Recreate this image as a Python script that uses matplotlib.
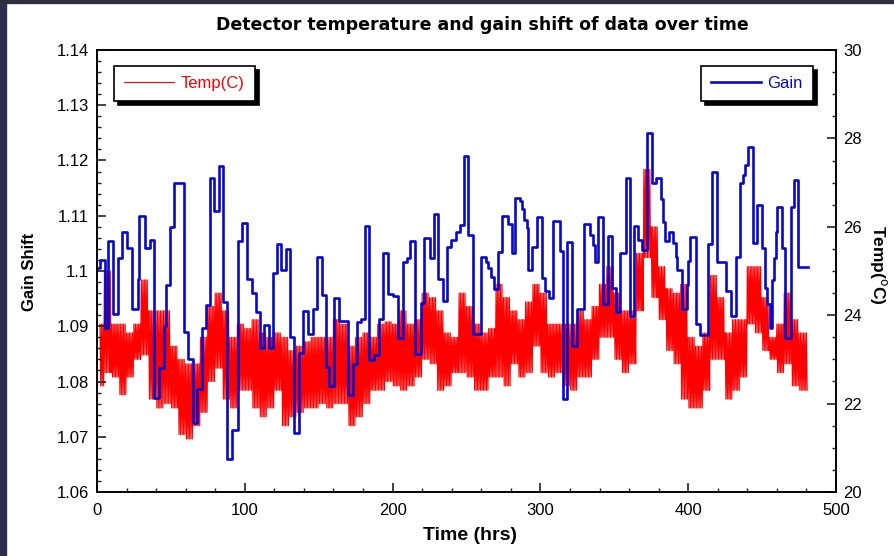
import numpy as np
import matplotlib
matplotlib.use("Agg")
import matplotlib.pyplot as plt
from matplotlib.ticker import MultipleLocator, AutoMinorLocator
from matplotlib.patches import Rectangle

plt.rcParams["font.family"] = ["Liberation Sans", "DejaVu Sans"]

# gain shift per run: step start time (hrs) and gain value
gain_t = [0, 2.0, 5.4, 7.7, 11.0, 14.0, 16.7, 20.1, 23.4, 27.5,
          28.4, 32.5, 35.9, 38.8, 42.2, 45.5, 46.5, 49.4, 52.1, 59.1,
          61.8, 65.2, 67.5, 70.8, 73.7, 76.5, 79.4, 82.5, 85.5, 88.2,
          91.1, 95.2, 97.9, 101.3, 104.6, 107.6, 110.3, 113.2, 116.6, 118.9,
          121.6, 124.5, 127.9, 130.6, 133.5, 136.7, 139.1, 143.0, 145.9, 149.1,
          152.0, 154.9, 157.2, 160.6, 163.7, 170.0, 173.0, 175.7, 178.4, 181.3,
          184.3, 187.6, 190.8, 193.7, 197.1, 200.5, 203.4, 207.3, 209.5, 211.8,
          215.2, 219.2, 221.5, 225.3, 228.2, 231.0, 234.3, 237.0, 239.5, 242.7,
          245.6, 248.5, 251.2, 254.6, 259.8, 263.0, 264.8, 266.6, 268.8, 271.5,
          274.2, 277.8, 280.6, 282.8, 286.2, 287.3, 289.1, 290.7, 291.4, 294.6,
          297.5, 300.9, 303.1, 306.0, 308.7, 313.3, 315.1, 317.8, 321.2, 324.5,
          329.5, 333.6, 335.4, 337.0, 339.2, 342.6, 345.5, 348.2, 351.1, 353.9,
          357.7, 360.6, 363.5, 366.3, 368.5, 371.9, 375.3, 378.2, 381.4, 382.7,
          384.3, 387.2, 390.0, 391.5, 392.6, 395.6, 399.0, 400.1, 401.2, 405.1,
          408.0, 413.6, 416.3, 419.7, 425.4, 428.7, 432.3, 435.0, 437.3, 438.4,
          440.2, 443.6, 446.3, 450.2, 452.0, 453.1, 455.3, 456.9, 458.1, 459.2,
          459.9, 463.2, 465.5, 469.6, 471.6, 474.5, 481.3]
gain_v = [1.1005, 1.1020, 1.0897, 1.1055, 1.0923, 1.1024, 1.1070, 1.1041, 1.0931, 1.0985,
          1.1100, 1.1041, 1.1057, 1.0771, 1.0824, 1.0900, 1.0975, 1.1080, 1.1160, 1.0890,
          1.0840, 1.0725, 1.0786, 1.0897, 1.0938, 1.1169, 1.1109, 1.1190, 1.0944, 1.0659,
          1.0713, 1.1055, 1.1086, 1.0985, 1.0961, 1.0925, 1.0861, 1.0902, 1.0861, 1.0996,
          1.1048, 1.1001, 1.1039, 1.0880, 1.0707, 1.0852, 1.0928, 1.0886, 1.0931, 1.1026,
          1.0957, 1.0826, 1.0791, 1.0951, 1.0910, 1.0775, 1.0831, 1.0907, 1.0913, 1.1081,
          1.0839, 1.0848, 1.0913, 1.1032, 1.0958, 1.0954, 1.0879, 1.1017, 1.1024, 1.1055,
          1.0850, 1.0942, 1.1060, 1.1024, 1.1104, 1.0985, 1.0946, 1.1044, 1.1056, 1.1071,
          1.1084, 1.1208, 1.1066, 1.0886, 1.1026, 1.1017, 1.1005, 1.0990, 1.0967, 1.1034,
          1.1099, 1.1085, 1.1033, 1.1133, 1.1127, 1.1113, 1.1092, 1.1077, 1.1002, 1.1044,
          1.1097, 1.0987, 1.0963, 1.0952, 1.1090, 1.1036, 1.0769, 1.1052, 1.0864, 1.0932,
          1.1085, 1.1065, 1.1047, 1.1016, 1.1097, 1.0941, 1.1063, 1.0969, 1.0926, 1.1032,
          1.1169, 1.0919, 1.1081, 1.1057, 1.1038, 1.1249, 1.1159, 1.1168, 1.1130, 1.1089,
          1.1054, 1.1070, 1.1050, 1.1026, 1.1002, 1.0931, 1.0975, 1.1018, 1.1062, 1.0904,
          1.0884, 1.1048, 1.1179, 1.1017, 1.0963, 1.0919, 1.1026, 1.1159, 1.1174, 1.1192,
          1.1225, 1.1050, 1.1119, 1.1041, 1.0969, 1.0941, 1.0896, 1.0984, 1.1023, 1.1070,
          1.1115, 1.1041, 1.0878, 1.1116, 1.1164, 1.1008, 1.1008]

# detector temperature band (deg C), high and low readings per 5 hr block
temp_block = 5
temp_hi = [23.8, 25.0, 23.8, 23.8, 23.6, 23.8, 24.8, 24.1, 24.1, 24.1,
           23.3, 23.0, 22.9, 22.9, 23.5, 24.2, 24.5, 24.1, 23.5, 23.8,
           23.7, 23.9, 23.6, 23.5, 23.6, 23.5, 23.2, 23.3, 23.4, 23.5,
           23.5, 23.5, 23.9, 23.8, 23.3, 23.5, 23.6, 23.5, 23.8, 23.85,
           23.8, 24.1, 23.8, 23.9, 24.5, 24.4, 24.1, 23.6, 23.5, 24.5,
           24.2, 23.8, 23.6, 23.7, 24.7, 24.4, 24.1, 23.9, 24.3, 24.7,
           24.5, 23.8, 23.8, 23.8, 23.8, 24.1, 23.9, 24.2, 24.7, 25.1,
           24.5, 24.1, 24.1, 25.4, 27.3, 26.0, 25.1, 24.6, 24.5, 24.7,
           23.5, 23.3, 23.6, 24.9, 24.4, 23.6, 23.9, 23.9, 25.1, 25.1,
           24.4, 23.5, 23.8, 24.5, 23.9, 23.6]
temp_lo = [22.4, 22.7, 22.6, 22.2, 22.6, 23.0, 23.1, 22.1, 21.9, 22.0,
           21.9, 21.3, 21.2, 21.5, 21.8, 22.5, 22.8, 22.1, 21.9, 22.3,
           22.3, 21.9, 21.7, 21.9, 22.3, 21.5, 21.7, 21.8, 21.9, 21.9,
           22.0, 21.9, 22.0, 22.0, 21.5, 21.7, 22.0, 22.3, 22.3, 22.5,
           22.4, 22.3, 22.4, 22.6, 23.0, 22.9, 22.3, 22.4, 22.7, 22.7,
           22.6, 22.3, 22.3, 22.6, 22.6, 22.4, 22.9, 22.6, 22.7, 23.3,
           22.7, 22.6, 22.7, 22.4, 22.3, 22.6, 22.6, 23.0, 23.5, 23.5,
           23.0, 22.7, 22.9, 24.1, 25.3, 24.4, 23.9, 23.2, 22.9, 22.1,
           21.9, 21.9, 22.3, 23.0, 23.0, 22.1, 22.3, 22.6, 23.8, 23.6,
           23.2, 23.0, 22.7, 22.9, 22.4, 22.3]

# half-hourly trace swinging between the high and low reading of its block
temp_t = np.arange(2, 481, 0.5)
blk = np.minimum((temp_t // temp_block).astype(int), len(temp_hi) - 1)
temp_y = np.where(np.arange(len(temp_t)) % 2 == 0,
                  np.array(temp_hi)[blk], np.array(temp_lo)[blk])

W, H = 894, 556
fig = plt.figure(figsize=(W / 100, H / 100), dpi=100)
fig.patch.set_facecolor("white")
# dark window edge
fig.patches.append(Rectangle((0, 0), 6 / W, 1, transform=fig.transFigure,
                             color="#2e2e52", zorder=0))
fig.patches.append(Rectangle((0, 1 - 3 / H), 1, 3 / H, transform=fig.transFigure,
                             color="#2e2e40", zorder=0))

ax = fig.add_axes([97 / W, 1 - 492 / H, (836 - 97) / W, (492 - 50) / H])
ax2 = ax.twinx()

ax2.plot(temp_t, temp_y, color="#ff0000", lw=0.8, label="Temp(C)")
ax.step(gain_t, gain_v, where="post", color="#0808cc", lw=1.9, label="Gain")

# gain drawn over temperature
ax.set_zorder(ax2.get_zorder() + 1)
ax.patch.set_visible(False)

ax.set_xlim(0, 500)
ax.set_ylim(1.06, 1.14)
ax2.set_ylim(20, 30)
ax.xaxis.set_major_locator(MultipleLocator(100))
ax.xaxis.set_minor_locator(AutoMinorLocator(5))
ax.yaxis.set_major_locator(MultipleLocator(0.01))
ax.yaxis.set_minor_locator(AutoMinorLocator(5))
ax2.yaxis.set_major_locator(MultipleLocator(2))
ax2.yaxis.set_minor_locator(AutoMinorLocator(4))
ax.yaxis.set_major_formatter(plt.FuncFormatter(lambda v, p: f"{v:g}"))

for a in (ax, ax2):
    a.tick_params(which="major", direction="in", length=6.5, width=1.2,
                  labelsize=12, color="#222222")
    a.tick_params(which="minor", direction="in", length=3, width=1.0,
                  color="#222222")
    for s in a.spines.values():
        s.set_linewidth(1.2)
ax.tick_params(axis="y", pad=6)
ax.tick_params(axis="x", pad=8)
ax2.tick_params(axis="y", pad=5)
ax.tick_params(top=False, right=False, which="both")

fig.text(482 / W, 1 - 25 / H, "Detector temperature and gain shift of data over time",
         ha="center", va="center", fontsize=12.5, fontweight="bold",
         family="DejaVu Sans")
fig.text(470 / W, 1 - 536 / H, "Time (hrs)", ha="center", va="center",
         fontsize=14, fontweight="bold")
fig.text(30 / W, 1 - 272 / H, "Gain Shift", ha="center", va="center",
         rotation=90, fontsize=12, fontweight="bold")
fig.text(879 / W, 1 - 265 / H, r"Temp($^{\mathrm{o}}$C)", ha="center", va="center",
         rotation=-90, fontsize=12.5, fontweight="bold")

shadow = {"ox": 3, "oy": -3, "color": "black", "alpha": 1}
leg_style = dict(fontsize=12, frameon=True, fancybox=False, edgecolor="black",
                 framealpha=1, borderpad=0.6, handlelength=3, handletextpad=0.4,
                 borderaxespad=0, labelcolor="linecolor", shadow=shadow)
l1 = ax2.legend(loc="upper left", bbox_to_anchor=(17 / 739, 1 - 16 / 442), **leg_style)
l2 = ax.legend(loc="upper right", bbox_to_anchor=(1 - 23 / 739, 1 - 16 / 442), **leg_style)
for lg in (l1, l2):
    lg.get_frame().set_linewidth(1.2)

fig.savefig("out.png", dpi=100)
